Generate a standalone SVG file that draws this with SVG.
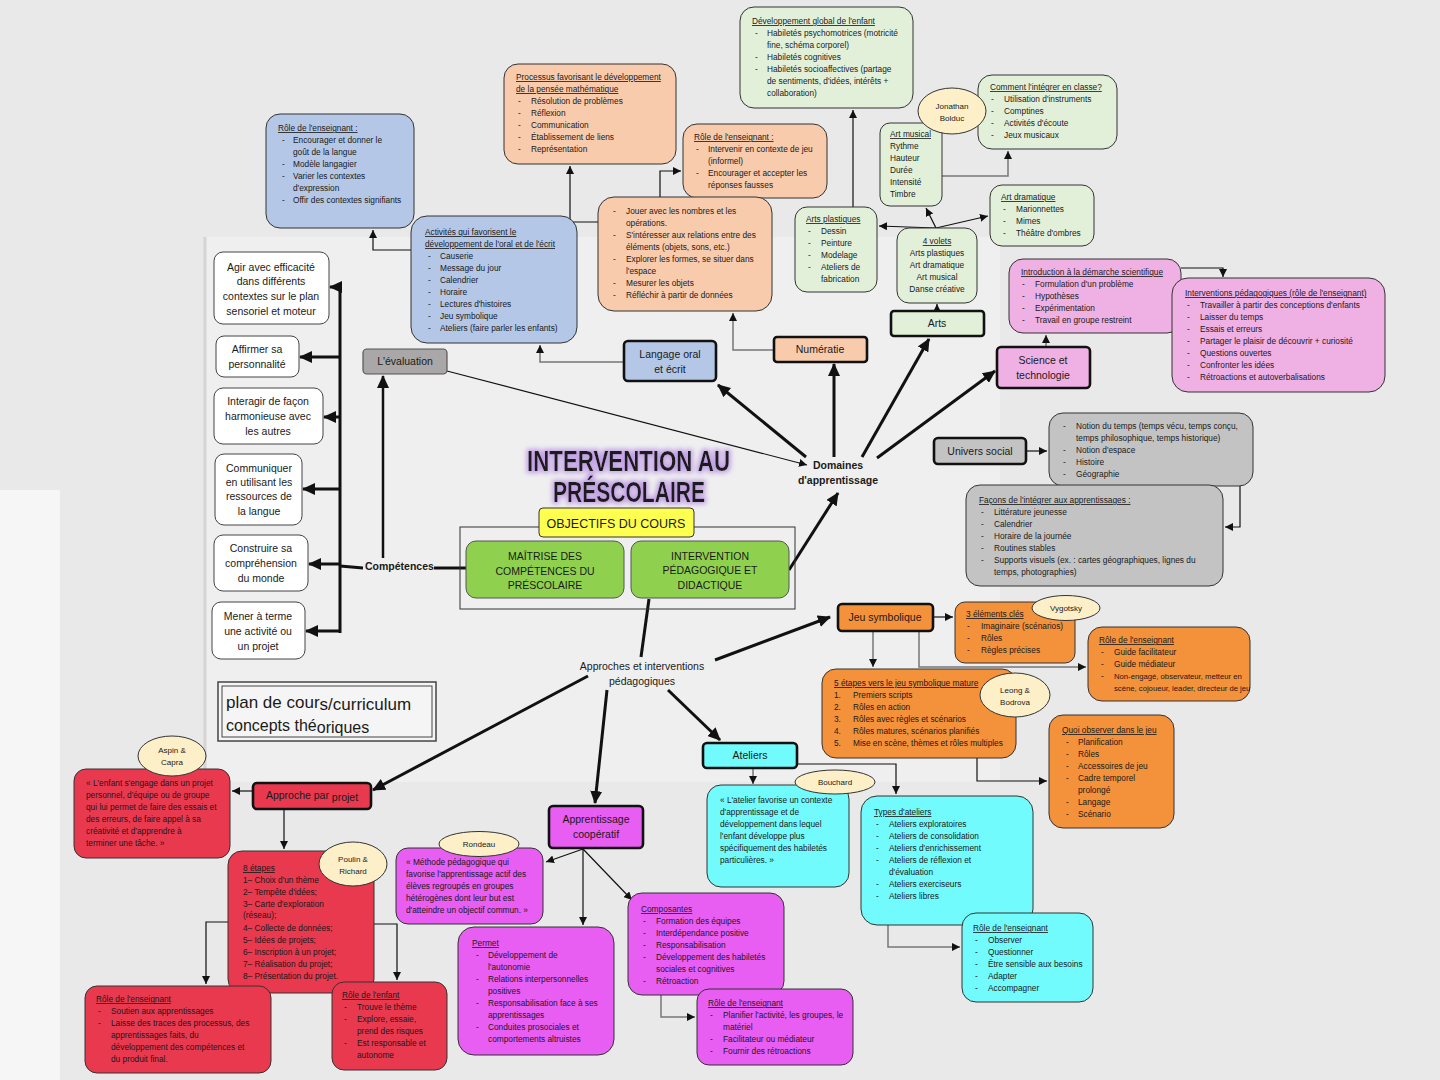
<svg xmlns="http://www.w3.org/2000/svg" width="1440" height="1080" viewBox="0 0 1440 1080">
<defs>
<style>
text{font-family:"Liberation Sans",Arial,sans-serif;fill:#1a1a1a}
.t{font-size:8.3px}
.s{font-size:7.7px}
.h{text-decoration:underline}
.c{text-anchor:middle}
.l{font-size:10.5px}
.m{font-size:10.5px}
.e{font-size:8px;text-anchor:middle}
.bx{stroke:#333;stroke-width:1}
.bd{stroke:#111;stroke-width:2.6}
.blue{fill:#b4c7e7}.peach{fill:#f8cbad}.lg{fill:#e2f0d9}.pink{fill:#efb0e3}.gray{fill:#c3c3c3}
.org{fill:#f4913b}.cyan{fill:#72fbfd}.mag{fill:#e85df2}.red{fill:#e8394f}.cream{fill:#fdf0c8;stroke:#333;stroke-width:1}
.wh{fill:#fff;stroke:#444;stroke-width:1}
.k{fill:none;stroke:#111;stroke-width:3}
.n{fill:none;stroke:#111;stroke-width:1.2}
.g{fill:none;stroke:#777;stroke-width:1.5}
</style>
<marker id="ab" markerUnits="userSpaceOnUse" markerWidth="13" markerHeight="12" refX="12" refY="6" orient="auto"><path d="M0,0 L13,6 L0,12 z" fill="#111"/></marker>
<marker id="as" markerUnits="userSpaceOnUse" markerWidth="8" markerHeight="8" refX="8" refY="4" orient="auto"><path d="M0,0 L8,4 L0,8 z" fill="#111"/></marker>
<filter id="glow" x="-10%" y="-30%" width="120%" height="160%">
<feMorphology in="SourceAlpha" operator="dilate" radius="2" result="d"/>
<feGaussianBlur in="d" stdDeviation="2.5" result="b"/>
<feFlood flood-color="#c2a0e4"/>
<feComposite in2="b" operator="in" result="gl"/>
<feMerge><feMergeNode in="gl"/><feMergeNode in="SourceGraphic"/></feMerge>
</filter>
</defs>

<rect width="1440" height="1080" fill="#e9e9e9"/>
<rect x="205" y="237" width="795" height="545" fill="#efefef"/>
<line x1="205" y1="237" x2="205" y2="782" stroke="#d4d4d4" stroke-width="3"/>
<rect x="0" y="490" width="60" height="590" fill="#f6f6f6"/>

<g id="connectors">
<line class="k" x1="806" y1="457" x2="718" y2="385" marker-end="url(#ab)"/>
<line class="k" x1="834" y1="457" x2="834" y2="364" marker-end="url(#ab)"/>
<line class="k" x1="862" y1="457" x2="929" y2="339" marker-end="url(#ab)"/>
<line class="k" x1="877" y1="458" x2="995" y2="371" marker-end="url(#ab)"/>
<line class="k" x1="789" y1="570" x2="838" y2="493" marker-end="url(#ab)"/>
<line class="k" x1="715" y1="660" x2="830" y2="617" marker-end="url(#ab)"/>
<line class="k" x1="588" y1="676" x2="373" y2="790" marker-end="url(#ab)"/>
<line class="k" x1="607" y1="690" x2="595" y2="803" marker-end="url(#ab)"/>
<line class="k" x1="668" y1="690" x2="720" y2="740" marker-end="url(#ab)"/>
<line class="k" x1="649" y1="599" x2="641" y2="657"/>
<line class="k" x1="434" y1="568" x2="466" y2="568"/>
<line class="k" x1="340" y1="566" x2="363" y2="568"/>
<line class="k" x1="340" y1="285" x2="340" y2="633"/>
<line class="k" x1="340" y1="287" x2="330" y2="287" marker-end="url(#ab)"/>
<line class="k" x1="340" y1="357" x2="300" y2="357" marker-end="url(#ab)"/>
<line class="k" x1="340" y1="417" x2="324" y2="417" marker-end="url(#ab)"/>
<line class="k" x1="340" y1="489" x2="303" y2="489" marker-end="url(#ab)"/>
<line class="k" x1="340" y1="564" x2="309" y2="564" marker-end="url(#ab)"/>
<line class="k" x1="340" y1="631" x2="306" y2="631" marker-end="url(#ab)"/>
<line fill="none" stroke="#111" stroke-width="2.5" x1="383" y1="558" x2="383" y2="376" marker-end="url(#ab)"/>
<line class="n" x1="447" y1="371" x2="807" y2="465" marker-end="url(#as)"/>
<polyline class="g" points="624,362 540,362 540,345" marker-end="url(#as)"/>
<polyline class="g" points="774,350 733,350 733,313" marker-end="url(#as)"/>
<polyline class="n" points="598,222 570,222 570,166" marker-end="url(#as)"/>
<polyline class="n" points="660,197 660,171 681,171" marker-end="url(#as)"/>
<polyline class="n" points="411,250 373,250 373,230" marker-end="url(#as)"/>
<line class="n" x1="853" y1="207" x2="853" y2="110" marker-end="url(#as)"/>
<polyline class="g" points="942,176 1008,176 1008,151" marker-end="url(#as)"/>
<line class="n" x1="936" y1="228" x2="879" y2="226" marker-end="url(#as)"/>
<line class="n" x1="936" y1="228" x2="926" y2="208" marker-end="url(#as)"/>
<line class="n" x1="936" y1="228" x2="988" y2="216" marker-end="url(#as)"/>
<line class="n" x1="937" y1="311" x2="937" y2="304" marker-end="url(#as)"/>
<line class="g" x1="1046" y1="347" x2="1046" y2="335" marker-end="url(#as)"/>
<polyline class="n" points="1181,268 1223,268 1223,277" marker-end="url(#as)"/>
<line class="n" x1="1026" y1="451" x2="1047" y2="451" marker-end="url(#as)"/>
<polyline class="n" points="1240,486 1240,527 1225,527" marker-end="url(#as)"/>
<line class="n" x1="933" y1="617" x2="953" y2="617" marker-end="url(#as)"/>
<line class="g" x1="873" y1="631" x2="873" y2="667" marker-end="url(#as)"/>
<polyline class="g" points="919,631 919,667 1086,667" marker-end="url(#as)"/>
<polyline class="n" points="977,758 977,781 1047,781" marker-end="url(#as)"/>
<line class="g" x1="753" y1="768" x2="753" y2="784" marker-end="url(#as)"/>
<polyline class="n" points="797,764 896,764 896,794" marker-end="url(#as)"/>
<polyline class="g" points="888,925 888,947 960,947" marker-end="url(#as)"/>
<line class="n" x1="583" y1="849" x2="546" y2="862" marker-end="url(#as)"/>
<line class="n" x1="583" y1="849" x2="583" y2="925" marker-end="url(#as)"/>
<line class="n" x1="583" y1="849" x2="632" y2="900" marker-end="url(#as)"/>
<polyline class="g" points="661,995 661,1017 695,1017" marker-end="url(#as)"/>
<line class="n" x1="253" y1="791" x2="232" y2="791" marker-end="url(#as)"/>
<line class="n" x1="284" y1="809" x2="284" y2="849" marker-end="url(#as)"/>
<polyline class="n" points="228,922 206,922 206,984" marker-end="url(#as)"/>
<polyline class="n" points="374,924 397,924 397,980" marker-end="url(#as)"/>
</g>

<g id="role-langue">
<rect class="blue bx" x="266" y="114" width="148" height="114" rx="14"/>
<text class="t h" x="278" y="131">Rôle de l'enseignant :</text>
<text class="t" x="282" y="143">-</text><text class="t" x="293" y="143">Encourager et donner le</text>
<text class="t" x="293" y="155">goût de la langue</text>
<text class="t" x="282" y="167">-</text><text class="t" x="293" y="167">Modèle langagier</text>
<text class="t" x="282" y="179">-</text><text class="t" x="293" y="179">Varier les contextes</text>
<text class="t" x="293" y="191">d'expression</text>
<text class="t" x="282" y="203">-</text><text class="t" x="293" y="203">Offir des contextes signifiants</text>
</g>

<g id="processus">
<rect class="peach bx" x="504" y="64" width="172" height="100" rx="14"/>
<text class="t h" x="516" y="80">Processus favorisant le développement</text>
<text class="t h" x="516" y="92">de la pensée mathématique</text>
<text class="t" x="518" y="104">-</text><text class="t" x="531" y="104">Résolution de problèmes</text>
<text class="t" x="518" y="116">-</text><text class="t" x="531" y="116">Réflexion</text>
<text class="t" x="518" y="128">-</text><text class="t" x="531" y="128">Communication</text>
<text class="t" x="518" y="140">-</text><text class="t" x="531" y="140">Établissement de liens</text>
<text class="t" x="518" y="152">-</text><text class="t" x="531" y="152">Représentation</text>
</g>

<g id="developpement">
<rect class="lg bx" x="740" y="7" width="173" height="101" rx="14"/>
<text class="t h" x="752" y="24">Développement global de l'enfant</text>
<text class="t" x="755" y="36">-</text><text class="t" x="767" y="36">Habiletés psychomotrices (motricité</text>
<text class="t" x="767" y="48">fine, schéma corporel)</text>
<text class="t" x="755" y="60">-</text><text class="t" x="767" y="60">Habiletés cognitives</text>
<text class="t" x="755" y="72">-</text><text class="t" x="767" y="72">Habiletés socioaffectives (partage</text>
<text class="t" x="767" y="84">de sentiments, d'idées, intérêts +</text>
<text class="t" x="767" y="96">collaboration)</text>
</g>

<g id="role-math">
<rect class="peach bx" x="683" y="124" width="144" height="74" rx="14"/>
<text class="t h" x="694" y="140">Rôle de l'enseignant :</text>
<text class="t" x="696" y="152">-</text><text class="t" x="708" y="152">Intervenir en contexte de jeu</text>
<text class="t" x="708" y="164">(informel)</text>
<text class="t" x="696" y="176">-</text><text class="t" x="708" y="176">Encourager et accepter les</text>
<text class="t" x="708" y="188">réponses fausses</text>
</g>

<g id="comment">
<rect class="lg bx" x="978" y="75" width="139" height="74" rx="14"/>
<text class="t h" x="990" y="90">Comment l'intégrer en classe?</text>
<text class="t" x="991" y="102">-</text><text class="t" x="1004" y="102">Utilisation d'instruments</text>
<text class="t" x="991" y="114">-</text><text class="t" x="1004" y="114">Comptines</text>
<text class="t" x="991" y="126">-</text><text class="t" x="1004" y="126">Activités d'écoute</text>
<text class="t" x="991" y="138">-</text><text class="t" x="1004" y="138">Jeux musicaux</text>
</g>

<g id="art-musical">
<rect class="lg bx" x="880" y="123" width="62" height="83" rx="10"/>
<text class="t h" x="890" y="137">Art musical</text>
<text class="t" x="890" y="149">Rythme</text>
<text class="t" x="890" y="161">Hauteur</text>
<text class="t" x="890" y="173">Durée</text>
<text class="t" x="890" y="185">Intensité</text>
<text class="t" x="890" y="197">Timbre</text>
</g>

<g id="bolduc">
<ellipse class="cream" cx="952" cy="111" rx="34" ry="23"/>
<text class="e" x="952" y="109">Jonathan</text>
<text class="e" x="952" y="121">Bolduc</text>
</g>

<g id="art-dramatique">
<rect class="lg bx" x="990" y="185" width="104" height="61" rx="12"/>
<text class="t h" x="1001" y="200">Art dramatique</text>
<text class="t" x="1003" y="212">-</text><text class="t" x="1016" y="212">Marionnettes</text>
<text class="t" x="1003" y="224">-</text><text class="t" x="1016" y="224">Mimes</text>
<text class="t" x="1003" y="236">-</text><text class="t" x="1016" y="236">Théâtre d'ombres</text>
</g>

<g id="arts-plastiques">
<rect class="lg bx" x="795" y="207" width="82" height="85" rx="12"/>
<text class="t h" x="806" y="222">Arts plastiques</text>
<text class="t" x="808" y="234">-</text><text class="t" x="821" y="234">Dessin</text>
<text class="t" x="808" y="246">-</text><text class="t" x="821" y="246">Peinture</text>
<text class="t" x="808" y="258">-</text><text class="t" x="821" y="258">Modelage</text>
<text class="t" x="808" y="270">-</text><text class="t" x="821" y="270">Ateliers de</text>
<text class="t" x="821" y="282">fabrication</text>
</g>

<g id="volets">
<rect class="lg bx" x="897" y="228" width="80" height="75" rx="12"/>
<text class="t c h" x="937" y="244">4 volets</text>
<text class="t c" x="937" y="256">Arts plastiques</text>
<text class="t c" x="937" y="268">Art dramatique</text>
<text class="t c" x="937" y="280">Art musical</text>
<text class="t c" x="937" y="292">Danse créative</text>
</g>

<g id="arts">
<rect class="lg bd" x="891" y="311" width="93" height="25" rx="3"/>
<text class="l c" x="937" y="327">Arts</text>
</g>

<g id="activites">
<rect class="blue bx" x="411" y="216" width="166" height="127" rx="16"/>
<text class="t h" x="425" y="235">Activités qui favorisent le</text>
<text class="t h" x="425" y="247">développement de l'oral et de l'écrit</text>
<text class="t" x="428" y="259">-</text><text class="t" x="440" y="259">Causerie</text>
<text class="t" x="428" y="271">-</text><text class="t" x="440" y="271">Message du jour</text>
<text class="t" x="428" y="283">-</text><text class="t" x="440" y="283">Calendrier</text>
<text class="t" x="428" y="295">-</text><text class="t" x="440" y="295">Horaire</text>
<text class="t" x="428" y="307">-</text><text class="t" x="440" y="307">Lectures d'histoires</text>
<text class="t" x="428" y="319">-</text><text class="t" x="440" y="319">Jeu symbolique</text>
<text class="t" x="428" y="331">-</text><text class="t" x="440" y="331">Ateliers (faire parler les enfants)</text>
</g>

<g id="jouer">
<rect class="peach bx" x="598" y="197" width="174" height="114" rx="16"/>
<text class="t" x="613" y="214">-</text><text class="t" x="626" y="214">Jouer avec les nombres et les</text>
<text class="t" x="626" y="226">opérations.</text>
<text class="t" x="613" y="238">-</text><text class="t" x="626" y="238">S'intéresser aux relations entre des</text>
<text class="t" x="626" y="250">éléments (objets, sons, etc.)</text>
<text class="t" x="613" y="262">-</text><text class="t" x="626" y="262">Explorer les formes, se situer dans</text>
<text class="t" x="626" y="274">l'espace</text>
<text class="t" x="613" y="286">-</text><text class="t" x="626" y="286">Mesurer les objets</text>
<text class="t" x="613" y="298">-</text><text class="t" x="626" y="298">Réfléchir à partir de données</text>
</g>

<g id="langage">
<rect class="blue bd" x="624" y="341" width="92" height="40" rx="4"/>
<text class="m c" x="670" y="358">Langage oral</text>
<text class="m c" x="670" y="373">et écrit</text>
</g>

<g id="numeratie">
<rect class="peach bd" x="774" y="337" width="93" height="25" rx="3"/>
<text class="m c" x="820" y="353">Numératie</text>
</g>

<g id="evaluation">
<rect fill="#a9a7a7" stroke="#555" stroke-width="1.2" x="363" y="349" width="84" height="25" rx="4"/>
<text class="m c" x="405" y="365" fill="#333">L'évaluation</text>
</g>

<g id="science">
<rect class="pink bd" x="997" y="347" width="93" height="41" rx="4"/>
<text class="m c" x="1043" y="364">Science et</text>
<text class="m c" x="1043" y="379">technologie</text>
</g>

<g id="demarche">
<rect class="pink bx" x="1009" y="259" width="172" height="74" rx="14"/>
<text class="t h" x="1021" y="275">Introduction à la démarche scientifique</text>
<text class="t" x="1022" y="287">-</text><text class="t" x="1035" y="287">Formulation d'un problème</text>
<text class="t" x="1022" y="299">-</text><text class="t" x="1035" y="299">Hypothèses</text>
<text class="t" x="1022" y="311">-</text><text class="t" x="1035" y="311">Expérimentation</text>
<text class="t" x="1022" y="323">-</text><text class="t" x="1035" y="323">Travail en groupe restreint</text>
</g>

<g id="interventions-sci">
<rect class="pink bx" x="1172" y="278" width="213" height="114" rx="16"/>
<text class="t h" x="1185" y="296">Interventions pédagogiques (rôle de l'enseignant)</text>
<text class="t" x="1187" y="308">-</text><text class="t" x="1200" y="308">Travailler à partir des conceptions d'enfants</text>
<text class="t" x="1187" y="320">-</text><text class="t" x="1200" y="320">Laisser du temps</text>
<text class="t" x="1187" y="332">-</text><text class="t" x="1200" y="332">Essais et erreurs</text>
<text class="t" x="1187" y="344">-</text><text class="t" x="1200" y="344">Partager le plaisir de découvrir + curiosité</text>
<text class="t" x="1187" y="356">-</text><text class="t" x="1200" y="356">Questions ouvertes</text>
<text class="t" x="1187" y="368">-</text><text class="t" x="1200" y="368">Confronter les idées</text>
<text class="t" x="1187" y="380">-</text><text class="t" x="1200" y="380">Rétroactions et autoverbalisations</text>
</g>

<g id="univers">
<rect class="gray bd" x="934" y="438" width="92" height="26" rx="4"/>
<text class="m c" x="980" y="455">Univers social</text>
</g>

<g id="notions">
<rect class="gray bx" x="1049" y="413" width="204" height="73" rx="14"/>
<text class="t" x="1063" y="429">-</text><text class="t" x="1076" y="429">Notion du temps (temps vécu, temps conçu,</text>
<text class="t" x="1076" y="441">temps philosophique, temps historique)</text>
<text class="t" x="1063" y="453">-</text><text class="t" x="1076" y="453">Notion d'espace</text>
<text class="t" x="1063" y="465">-</text><text class="t" x="1076" y="465">Histoire</text>
<text class="t" x="1063" y="477">-</text><text class="t" x="1076" y="477">Géographie</text>
</g>

<g id="facons">
<rect class="gray bx" x="966" y="485" width="257" height="101" rx="14"/>
<text class="t h" x="979" y="503">Façons de l'intégrer aux apprentissages :</text>
<text class="t" x="981" y="515">-</text><text class="t" x="994" y="515">Littérature jeunesse</text>
<text class="t" x="981" y="527">-</text><text class="t" x="994" y="527">Calendrier</text>
<text class="t" x="981" y="539">-</text><text class="t" x="994" y="539">Horaire de la journée</text>
<text class="t" x="981" y="551">-</text><text class="t" x="994" y="551">Routines stables</text>
<text class="t" x="981" y="563">-</text><text class="t" x="994" y="563">Supports visuels (ex. : cartes géographiques, lignes du</text>
<text class="t" x="994" y="575">temps, photographies)</text>
</g>

<g id="comp-agir">
<rect class="wh" x="214" y="252" width="115" height="72" rx="9"/>
<text class="l c" x="271" y="271">Agir avec efficacité</text>
<text class="l c" x="271" y="285">dans différents</text>
<text class="l c" x="271" y="300">contextes sur le plan</text>
<text class="l c" x="271" y="315">sensoriel et moteur</text>
</g>
<g id="comp-affirmer">
<rect class="wh" x="216" y="336" width="83" height="41" rx="8"/>
<text class="l c" x="257" y="353">Affirmer sa</text>
<text class="l c" x="257" y="368">personnalité</text>
</g>
<g id="comp-interagir">
<rect class="wh" x="214" y="388" width="109" height="56" rx="9"/>
<text class="l c" x="268" y="405">Interagir de façon</text>
<text class="l c" x="268" y="420">harmonieuse avec</text>
<text class="l c" x="268" y="435">les autres</text>
</g>
<g id="comp-communiquer">
<rect class="wh" x="215" y="454" width="87" height="71" rx="9"/>
<text class="l c" x="259" y="472">Communiquer</text>
<text class="l c" x="259" y="486">en utilisant les</text>
<text class="l c" x="259" y="500">ressources de</text>
<text class="l c" x="259" y="515">la langue</text>
</g>
<g id="comp-construire">
<rect class="wh" x="214" y="535" width="94" height="56" rx="9"/>
<text class="l c" x="261" y="552">Construire sa</text>
<text class="l c" x="261" y="567">compréhension</text>
<text class="l c" x="261" y="582">du monde</text>
</g>
<g id="comp-mener">
<rect class="wh" x="212" y="602" width="93" height="57" rx="9"/>
<text class="l c" x="258" y="620">Mener à terme</text>
<text class="l c" x="258" y="635">une activité ou</text>
<text class="l c" x="258" y="650">un projet</text>
</g>

<g id="competences">
<text x="365" y="570" font-size="10.5" font-weight="bold">Compétences</text>
</g>

<g id="plan">
<rect x="218" y="682" width="218" height="59" fill="#f5f5f5" stroke="#444" stroke-width="1.5"/>
<rect x="222" y="686" width="210" height="51" fill="none" stroke="#444" stroke-width="1"/>
<text x="226" y="708" font-size="17">plan de cour<tspan dy="2">s/curriculum</tspan></text>
<text x="226" y="731" font-size="16">concepts thé<tspan dy="2">oriques</tspan></text>
</g>

<g id="titre" filter="url(#glow)">
<text x="527" y="471" font-size="30" font-weight="bold" textLength="203" lengthAdjust="spacingAndGlyphs" fill="#7030a0">INTERVENTION AU</text>
<text x="553" y="502" font-size="30" font-weight="bold" textLength="152" lengthAdjust="spacingAndGlyphs" fill="#7030a0">PRÉSCOLAIRE</text>
</g>

<g id="objectifs">
<rect x="460" y="527" width="335" height="82" fill="none" stroke="#333" stroke-width="1"/>
<rect x="539" y="508" width="155" height="29" rx="4" fill="#ffff50" stroke="#333" stroke-width="1"/>
<text x="616" y="528" font-size="12.5" class="c">OBJECTIFS DU COURS</text>
</g>

<g id="maitrise">
<rect x="466" y="541" width="158" height="57" rx="10" fill="#8fd14f" stroke="#555" stroke-width="1"/>
<text class="c" x="545" y="560" font-size="10.5">MAÎTRISE DES</text>
<text class="c" x="545" y="575" font-size="10.5">COMPÉTENCES DU</text>
<text class="c" x="545" y="589" font-size="10.5">PRÉSCOLAIRE</text>
</g>

<g id="intervention">
<rect x="631" y="541" width="158" height="57" rx="10" fill="#8fd14f" stroke="#555" stroke-width="1"/>
<text class="c" x="710" y="560" font-size="10.5">INTERVENTION</text>
<text class="c" x="710" y="574" font-size="10.5">PÉDAGOGIQUE ET</text>
<text class="c" x="710" y="589" font-size="10.5">DIDACTIQUE</text>
</g>

<g id="domaines">
<text class="c" x="838" y="469" font-size="10.5" font-weight="bold">Domaines</text>
<text class="c" x="838" y="484" font-size="10.5" font-weight="bold">d'apprentissage</text>
</g>

<g id="approches">
<text class="c" x="642" y="670" font-size="10.5">Approches et interventions</text>
<text class="c" x="642" y="685" font-size="10.5">pédagogiques</text>
</g>

<g id="jeu-symbolique">
<rect class="org bd" x="838" y="604" width="95" height="27" rx="4"/>
<text class="m c" x="885" y="621">Jeu symbolique</text>
</g>

<g id="elements-cles">
<rect class="org bx" x="955" y="602" width="120" height="61" rx="10"/>
<text class="t h" x="966" y="617">3 éléments clés</text>
<text class="t" x="967" y="629">-</text><text class="t" x="981" y="629">Imaginaire (scénarios)</text>
<text class="t" x="967" y="641">-</text><text class="t" x="981" y="641">Rôles</text>
<text class="t" x="967" y="653">-</text><text class="t" x="981" y="653">Règles précises</text>
</g>
<g id="vygotsky">
<ellipse class="cream" cx="1066" cy="608" rx="34" ry="12.5"/>
<text class="e" x="1066" y="611">Vygotsky</text>
</g>

<g id="role-jeu">
<rect class="org bx" x="1088" y="627" width="162" height="74" rx="14"/>
<text class="t h" x="1099" y="643">Rôle de l'enseignant</text>
<text class="t" x="1101" y="655">-</text><text class="t" x="1114" y="655">Guide facilitateur</text>
<text class="t" x="1101" y="667">-</text><text class="t" x="1114" y="667">Guide médiateur</text>
<text class="t" x="1101" y="679">-</text><text class="s" x="1114" y="679">Non-engagé, observateur, metteur en</text>
<text class="s" x="1114" y="691">scène, cojoueur, leader, directeur de jeu</text>
</g>

<g id="cinq-etapes">
<rect class="org bx" x="822" y="669" width="194" height="89" rx="14"/>
<text class="t h" x="834" y="686">5 étapes vers le jeu symbolique mature</text>
<text class="t" x="834" y="698">1.</text><text class="t" x="853" y="698">Premiers scripts</text>
<text class="t" x="834" y="710">2.</text><text class="t" x="853" y="710">Rôles en action</text>
<text class="t" x="834" y="722">3.</text><text class="t" x="853" y="722">Rôles avec règles et scénarios</text>
<text class="t" x="834" y="734">4.</text><text class="t" x="853" y="734">Rôles matures, scénarios planifiés</text>
<text class="t" x="834" y="746">5.</text><text class="t" x="853" y="746">Mise en scène, thèmes et rôles multiples</text>
</g>
<g id="leong">
<ellipse class="cream" cx="1015" cy="695" rx="35" ry="22"/>
<text class="e" x="1015" y="693">Leong &amp;</text>
<text class="e" x="1015" y="705">Bodrova</text>
</g>

<g id="quoi-observer">
<rect class="org bx" x="1049" y="715" width="125" height="113" rx="14"/>
<text class="t h" x="1062" y="733">Quoi observer dans le jeu</text>
<text class="t" x="1066" y="745">-</text><text class="t" x="1078" y="745">Planification</text>
<text class="t" x="1066" y="757">-</text><text class="t" x="1078" y="757">Rôles</text>
<text class="t" x="1066" y="769">-</text><text class="t" x="1078" y="769">Accessoires de jeu</text>
<text class="t" x="1066" y="781">-</text><text class="t" x="1078" y="781">Cadre temporel</text>
<text class="t" x="1078" y="793">prolongé</text>
<text class="t" x="1066" y="805">-</text><text class="t" x="1078" y="805">Langage</text>
<text class="t" x="1066" y="817">-</text><text class="t" x="1078" y="817">Scénario</text>
</g>

<g id="ateliers">
<rect class="cyan bd" x="703" y="743" width="94" height="25" rx="4"/>
<text class="m c" x="750" y="759">Ateliers</text>
</g>

<g id="atelier-def">
<rect class="cyan bx" x="707" y="785" width="142" height="102" rx="14"/>
<text class="t" x="720" y="803">« L'atelier favorise un contexte</text>
<text class="t" x="720" y="815">d'apprentissage et de</text>
<text class="t" x="720" y="827">développement dans lequel</text>
<text class="t" x="720" y="839">l'enfant développe plus</text>
<text class="t" x="720" y="851">spécifiquement des habiletés</text>
<text class="t" x="720" y="863">particulières. »</text>
</g>
<g id="bouchard">
<ellipse class="cream" cx="835" cy="782" rx="40" ry="12"/>
<text class="e" x="835" y="785">Bouchard</text>
</g>

<g id="types-ateliers">
<rect class="cyan bx" x="861" y="796" width="172" height="129" rx="16"/>
<text class="t h" x="874" y="815">Types d'ateliers</text>
<text class="t" x="876" y="827">-</text><text class="t" x="889" y="827">Ateliers exploratoires</text>
<text class="t" x="876" y="839">-</text><text class="t" x="889" y="839">Ateliers de consolidation</text>
<text class="t" x="876" y="851">-</text><text class="t" x="889" y="851">Ateliers d'enrichissement</text>
<text class="t" x="876" y="863">-</text><text class="t" x="889" y="863">Ateliers de réflexion et</text>
<text class="t" x="889" y="875">d'évaluation</text>
<text class="t" x="876" y="887">-</text><text class="t" x="889" y="887">Ateliers exerciseurs</text>
<text class="t" x="876" y="899">-</text><text class="t" x="889" y="899">Ateliers libres</text>
</g>

<g id="role-ateliers">
<rect class="cyan bx" x="962" y="913" width="131" height="89" rx="14"/>
<text class="t h" x="973" y="931">Rôle de l'enseignant</text>
<text class="t" x="975" y="943">-</text><text class="t" x="988" y="943">Observer</text>
<text class="t" x="975" y="955">-</text><text class="t" x="988" y="955">Questionner</text>
<text class="t" x="975" y="967">-</text><text class="t" x="988" y="967">Être sensible aux besoins</text>
<text class="t" x="975" y="979">-</text><text class="t" x="988" y="979">Adapter</text>
<text class="t" x="975" y="991">-</text><text class="t" x="988" y="991">Accompagner</text>
</g>

<g id="cooperatif">
<rect class="mag bd" x="549" y="806" width="94" height="42" rx="4"/>
<text class="m c" x="596" y="823">Apprentissage</text>
<text class="m c" x="596" y="838">coopératif</text>
</g>

<g id="coop-def">
<rect class="mag bx" x="396" y="848" width="147" height="76" rx="12"/>
<text class="t" x="406" y="865">« Méthode pédagogique qui</text>
<text class="t" x="406" y="877">favorise l'apprentissage actif des</text>
<text class="t" x="406" y="889">élèves regroupés en groupes</text>
<text class="t" x="406" y="901">hétérogènes dont leur but est</text>
<text class="t" x="406" y="913">d'atteindre un objectif commun. »</text>
</g>
<g id="rondeau">
<ellipse class="cream" cx="479" cy="844" rx="40" ry="12.5"/>
<text class="e" x="479" y="847">Rondeau</text>
</g>

<g id="permet">
<rect class="mag bx" x="458" y="927" width="156" height="128" rx="16"/>
<text class="t h" x="472" y="946">Permet</text>
<text class="t" x="476" y="958">-</text><text class="t" x="488" y="958">Développement de</text>
<text class="t" x="488" y="970">l'autonomie</text>
<text class="t" x="476" y="982">-</text><text class="t" x="488" y="982">Relations interpersonnelles</text>
<text class="t" x="488" y="994">positives</text>
<text class="t" x="476" y="1006">-</text><text class="t" x="488" y="1006">Responsabilisation face à ses</text>
<text class="t" x="488" y="1018">apprentissages</text>
<text class="t" x="476" y="1030">-</text><text class="t" x="488" y="1030">Conduites prosociales et</text>
<text class="t" x="488" y="1042">comportements altruistes</text>
</g>

<g id="composantes">
<rect class="mag bx" x="628" y="893" width="156" height="102" rx="14"/>
<text class="t h" x="641" y="912">Composantes</text>
<text class="t" x="643" y="924">-</text><text class="t" x="656" y="924">Formation des équipes</text>
<text class="t" x="643" y="936">-</text><text class="t" x="656" y="936">Interdépendance positive</text>
<text class="t" x="643" y="948">-</text><text class="t" x="656" y="948">Responsabilisation</text>
<text class="t" x="643" y="960">-</text><text class="t" x="656" y="960">Développement des habiletés</text>
<text class="t" x="656" y="972">sociales et cognitives</text>
<text class="t" x="643" y="984">-</text><text class="t" x="656" y="984">Rétroaction</text>
</g>

<g id="role-coop">
<rect class="mag bx" x="697" y="989" width="156" height="76" rx="12"/>
<text class="t h" x="708" y="1006">Rôle de l'enseignant</text>
<text class="t" x="710" y="1018">-</text><text class="t" x="723" y="1018">Planifier l'activité, les groupes, le</text>
<text class="t" x="723" y="1030">matériel</text>
<text class="t" x="710" y="1042">-</text><text class="t" x="723" y="1042">Facilitateur ou médiateur</text>
<text class="t" x="710" y="1054">-</text><text class="t" x="723" y="1054">Fournir des rétroactions</text>
</g>

<g id="approche-projet">
<rect class="red bd" x="253" y="783" width="118" height="26" rx="4"/>
<text class="m c" x="312" y="799">Approche par <tspan dy="2">projet</tspan></text>
</g>

<g id="projet-def">
<rect class="red bx" x="74" y="769" width="156" height="89" rx="12"/>
<text class="t" x="86" y="786">« L'enfant s'engage dans un projet</text>
<text class="t" x="86" y="798">personnel, d'équipe ou de groupe</text>
<text class="t" x="86" y="810">qui lui permet de faire des essais et</text>
<text class="t" x="86" y="822">des erreurs, de faire appel à sa</text>
<text class="t" x="86" y="834">créativité et d'apprendre à</text>
<text class="t" x="86" y="846">terminer une tâche. »</text>
</g>
<g id="aspin">
<ellipse class="cream" cx="172" cy="756" rx="34" ry="20"/>
<text class="e" x="172" y="753">Aspin &amp;</text>
<text class="e" x="172" y="765">Capra</text>
</g>

<g id="huit-etapes">
<rect class="red bx" x="228" y="851" width="146" height="142" rx="14"/>
<text class="t h" x="243" y="871">8 étapes</text>
<text class="t" x="243" y="883">1– Choix d'un thème</text>
<text class="t" x="243" y="895">2– Tempête d'idées;</text>
<text class="t" x="243" y="907">3– Carte d'exploration</text>
<text class="t" x="243" y="918">(réseau);</text>
<text class="t" x="243" y="931">4– Collecte de données;</text>
<text class="t" x="243" y="943">5– Idées de projets;</text>
<text class="t" x="243" y="955">6– Inscription à un projet;</text>
<text class="t" x="243" y="967">7– Réalisation du projet;</text>
<text class="t" x="243" y="979">8– Présentation du projet.</text>
</g>
<g id="poulin">
<ellipse class="cream" cx="353" cy="864" rx="34" ry="22"/>
<text class="e" x="353" y="862">Poulin &amp;</text>
<text class="e" x="353" y="874">Richard</text>
</g>

<g id="role-projet">
<rect class="red bx" x="85" y="986" width="186" height="87" rx="12"/>
<text class="t h" x="96" y="1002">Rôle de l'enseignant</text>
<text class="t" x="98" y="1014">-</text><text class="t" x="111" y="1014">Soutien aux apprentissages</text>
<text class="t" x="98" y="1026">-</text><text class="t" x="111" y="1026">Laisse des traces des processus, des</text>
<text class="t" x="111" y="1038">apprentissages faits, du</text>
<text class="t" x="111" y="1050">développement des compétences et</text>
<text class="t" x="111" y="1062">du produit final.</text>
</g>

<g id="role-enfant">
<rect class="red bx" x="332" y="982" width="115" height="88" rx="12"/>
<text class="t h" x="342" y="998">Rôle de l'enfant</text>
<text class="t" x="344" y="1010">-</text><text class="t" x="357" y="1010">Trouve le thème</text>
<text class="t" x="344" y="1022">-</text><text class="t" x="357" y="1022">Explore, essaie,</text>
<text class="t" x="357" y="1034">prend des risques</text>
<text class="t" x="344" y="1046">-</text><text class="t" x="357" y="1046">Est responsable et</text>
<text class="t" x="357" y="1058">autonome</text>
</g>
</svg>
